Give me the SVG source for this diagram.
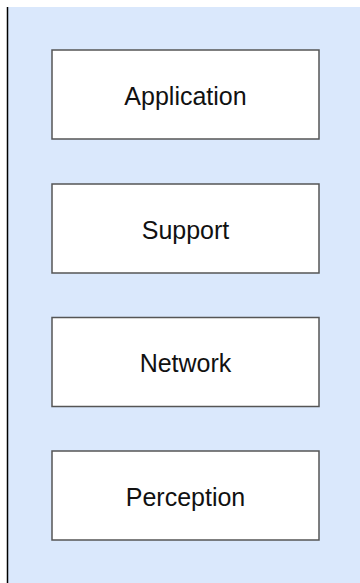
<svg xmlns="http://www.w3.org/2000/svg" width="360" height="583" viewBox="0 0 360 583">
<style>
.box{fill:#ffffff;stroke:#555555;stroke-width:1.5}
.lbl{font-family:"Liberation Sans",Arial,sans-serif;font-size:25px;fill:#111111;text-anchor:middle}
</style>
<rect x="0" y="0" width="360" height="583" fill="#ffffff"/>
<rect x="8" y="7" width="352" height="576" fill="#dae8fc"/>
<line x1="7.5" y1="7" x2="7.5" y2="583" stroke="#000000" stroke-width="1.5"/>
<g id="application">
<rect class="box" x="52" y="50" width="267" height="89"/>
<text class="lbl" x="185.5" y="104.5">Application</text>
</g>
<g id="support">
<rect class="box" x="52" y="184" width="267" height="89"/>
<text class="lbl" x="185.5" y="238.5">Support</text>
</g>
<g id="network">
<rect class="box" x="52" y="317.5" width="267" height="89"/>
<text class="lbl" x="185.5" y="372">Network</text>
</g>
<g id="perception">
<rect class="box" x="52" y="451" width="267" height="89"/>
<text class="lbl" x="185.5" y="505.5">Perception</text>
</g>
<g id="connectors"/>
</svg>
